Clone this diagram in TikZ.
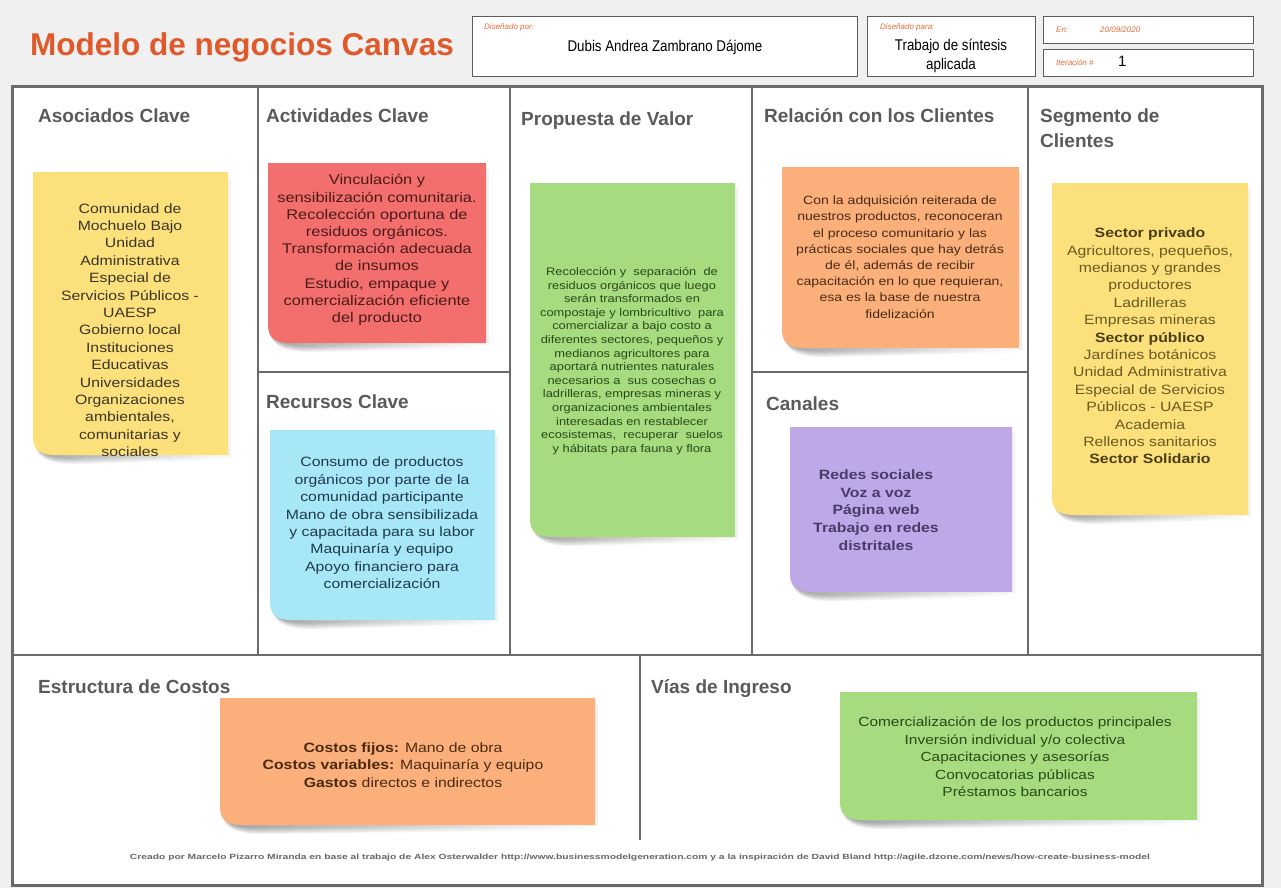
\documentclass[tikz,border=0pt]{standalone}
\usepackage{fontspec}
\setmainfont{Liberation Sans}
\newfontfamily\nf[FakeStretch=1.17]{Liberation Sans}
\newfontfamily\narf[FakeStretch=0.86]{Liberation Sans}
\definecolor{bgc}{HTML}{F0F0F0}
\definecolor{linec}{HTML}{6A6A6A}
\definecolor{boxc}{HTML}{5C5C5C}
\definecolor{headc}{HTML}{5A5A5A}
\definecolor{titlec}{HTML}{E0592A}
\definecolor{labc}{HTML}{E8693A}
\definecolor{footc}{HTML}{666666}
\definecolor{yellowN}{HTML}{FCE07B}
\definecolor{redN}{HTML}{F36F6E}
\definecolor{greenN}{HTML}{A7DB7F}
\definecolor{orangeN}{HTML}{FBB07B}
\definecolor{cyanN}{HTML}{A7E7F8}
\definecolor{purpleN}{HTML}{BFA8E8}
\definecolor{txY}{HTML}{3A3526}
\definecolor{txR}{HTML}{4A1A18}
\definecolor{txG}{HTML}{2A4A18}
\definecolor{txO}{HTML}{4A2A12}
\definecolor{txS}{HTML}{6A5A22}
\definecolor{txSb}{HTML}{4A3E14}
\definecolor{txC}{HTML}{1E3A48}
\definecolor{txP}{HTML}{4A3A68}
\tikzset{
  panel/.style={draw=linec, line width=2pt},
  head/.style={anchor=base west, inner sep=0pt, font=\fontsize{19}{22}\selectfont\bfseries, text=headc},
  notebg/.style={anchor=north west, inner sep=0pt, draw=none},
  ntext/.style={align=center, inner sep=0pt},
  hbox/.style={draw=boxc, line width=1pt, fill=white, anchor=north west, inner sep=0pt},
  lab/.style={anchor=base west, inner sep=0pt, font=\fontsize{8}{9}\selectfont\itshape, text=labc},
}
% name, x0, y0, x1, y1, colour
\newcommand\stickynote[6]{%
  % soft, layered shadow under the lower edge, darkest at the left
  \foreach \s in {0,...,6}{%
    \shade[left color=black, right color=white, opacity=.06]
      (#2+5,#5-34+2*\s) .. controls (#2-4+0.8*\s,#5-6) and (#2+2+0.5*\s,#5+10-\s) .. (#2+45,#5+9-\s)
      -- (#4-2,#5+5-0.6*\s) -- (#4-2,#5-4) -- cycle;
  }
  % right side faint shadow
  \fill[black,opacity=.05] (#4,#3+6) rectangle (#4+3,#5+2);
  % the paper, with its lifted lower left corner
  \fill[#6] (#2,#3) -- (#4,#3) -- (#4,#5) -- (#2+28,#5) .. controls (#2+8,#5+1) and (#2+1,#5-4) .. (#2,#5-16) -- cycle;
  \node[notebg, minimum width=#4pt-#2pt, minimum height=#5pt-#3pt] (#1) at (#2,#3) {};
}
\begin{document}
\begin{tikzpicture}[x=1pt,y=-1pt]
\useasboundingbox (0,0) rectangle (1281,888);
\fill[bgc] (0,0) rectangle (1281,888);

% ---------- header ----------
\node[anchor=base west, inner sep=0pt, font=\fontsize{31.5}{34}\selectfont\bfseries, text=titlec] (title) at (30,56) {Modelo de negocios Canvas};

\node[hbox, minimum width=385pt, minimum height=60pt] (porbox) at (472,16) {};
\node[lab] (porlab) at (484,30) {Diseñado por:};
\node[inner sep=0pt, font=\narf\fontsize{15.5}{18}\selectfont] (dubis) at (665,47) {Dubis Andrea Zambrano Dájome};

\node[hbox, minimum width=168pt, minimum height=60pt] (parabox) at (867,16) {};
\node[lab] (paralab) at (880,30) {Diseñado para:};
\node[inner sep=0pt, align=center, font=\narf\fontsize{15.5}{19}\selectfont] (para) at (951,56) {Trabajo de síntesis\\aplicada};

\node[hbox, minimum width=210pt, minimum height=27pt] (enbox) at (1043,16) {};
\node[lab] (enlab) at (1056,33) {En:};
\node[lab] (fecha) at (1100,33) {20/09/2020};

\node[hbox, minimum width=210pt, minimum height=27pt] (itbox) at (1043,49) {};
\node[lab] (itlab) at (1056,66) {Iteración \#};
\node[anchor=base west, inner sep=0pt, font=\fontsize{15}{18}\selectfont] (itnum) at (1118,67) {1};

% ---------- canvas ----------
\fill[white] (12,87) rectangle (1262,885);
\draw[panel] (258,87) -- (258,655);
\draw[panel] (510,87) -- (510,655);
\draw[panel] (752,87) -- (752,655);
\draw[panel] (1028,87) -- (1028,655);
\draw[panel] (258,372) -- (510,372);
\draw[panel] (752,372) -- (1028,372);
\draw[panel] (12,655) -- (1262,655);
\draw[panel] (640,655) -- (640,840);
\draw[draw=linec, line width=3pt] (12,87) rectangle (1262,885);

% ---------- section titles ----------
\node[head] (hA) at (38,123) {Asociados Clave};
\node[head] (hB) at (266,123) {Actividades Clave};
\node[head] (hC) at (521,125) {Propuesta de Valor};
\node[head] (hD) at (764,123) {Relación con los Clientes};
\node[head] (hE) at (1040,123) {Segmento de};
\node[head] (hE2) at (1040,147) {Clientes};
\node[head] (hF) at (266,408) {Recursos Clave};
\node[head] (hG) at (766,410) {Canales};
\node[head] (hH) at (38,693) {Estructura de Costos};
\node[head] (hI) at (651,693) {Vías de Ingreso};

% ---------- sticky notes ----------
\stickynote{nA}{33}{172}{228}{455}{yellowN}
\stickynote{nB}{268}{163}{486}{343}{redN}
\stickynote{nC}{530}{183}{735}{537}{greenN}
\stickynote{nD}{782}{167}{1019}{348}{orangeN}
\stickynote{nE}{1052}{183}{1248}{515}{yellowN}
\stickynote{nF}{270}{430}{495}{620}{cyanN}
\stickynote{nG}{790}{427}{1012}{592}{purpleN}
\stickynote{nH}{220}{698}{595}{825}{orangeN}
\stickynote{nI}{840}{692}{1197}{820}{greenN}

\node[ntext, text=txY, font=\nf\fontsize{13.5}{17.4}\selectfont] (tA) at (130,330) {Comunidad de\\Mochuelo Bajo\\Unidad\\Administrativa\\Especial de\\Servicios Públicos -\\UAESP\\Gobierno local\\Instituciones\\Educativas\\Universidades\\Organizaciones\\ambientales,\\comunitarias y\\sociales};

\node[ntext, text=txR, font=\nf\fontsize{14}{17.2}\selectfont] (tB) at (377,250) {Vinculación y\\sensibilización comunitaria.\\Recolección oportuna de\\residuos orgánicos.\\Transformación adecuada\\de insumos\\Estudio, empaque y\\comercialización eficiente\\del producto};

\node[ntext, text=txG, font=\nf\fontsize{11}{13.6}\selectfont] (tC) at (632,361) {Recolección y\ \ separación\ \ de\\residuos orgánicos que luego\\serán transformados en\\compostaje y lombricultivo\ \ para\\comercializar a bajo costo a\\diferentes sectores, pequeños y\\medianos agricultores para\\aportará nutrientes naturales\\necesarios a\ \ sus cosechas o\\ladrilleras, empresas mineras y\\organizaciones ambientales\\interesadas en restablecer\\ecosistemas,\ \ recuperar\ \ suelos\\y hábitats para fauna y flora};

\node[ntext, text=txO, font=\nf\fontsize{12}{16.2}\selectfont] (tD) at (900,257) {Con la adquisición reiterada de\\nuestros productos, reconoceran\\el proceso comunitario y las\\prácticas sociales que hay detrás\\de él, además de recibir\\capacitación en lo que requieran,\\esa es la base de nuestra\\fidelización};

\node[ntext, text=txS, font=\nf\fontsize{13.5}{17.4}\selectfont] (tE) at (1150,346) {\textcolor{txSb}{\bfseries Sector privado}\\Agricultores, pequeños,\\medianos y grandes\\productores\\Ladrilleras\\Empresas mineras\\\textcolor{txSb}{\bfseries Sector público}\\Jardínes botánicos\\Unidad Administrativa\\Especial de Servicios\\Públicos - UAESP\\Academia\\Rellenos sanitarios\\\textcolor{txSb}{\bfseries Sector Solidario}};

\node[ntext, text=txC, font=\nf\fontsize{13.5}{17.4}\selectfont] (tF) at (382,523) {Consumo de productos\\orgánicos por parte de la\\comunidad participante\\Mano de obra sensibilizada\\y capacitada para su labor\\Maquinaría y equipo\\Apoyo financiero para\\comercialización};

\node[ntext, text=txP, font=\nf\fontsize{13.5}{17.6}\selectfont\bfseries] (tG) at (876,510) {Redes sociales\\Voz a voz\\Página web\\Trabajo en redes\\distritales};

\node[ntext, text=txO, font=\nf\fontsize{13.5}{17.5}\selectfont] (tH) at (403,765) {\textbf{Costos fijos:} Mano de obra\\\textbf{Costos variables:} Maquinaría y equipo\\\textbf{Gastos} directos e indirectos};

\node[ntext, text=txG, font=\nf\fontsize{13.2}{17.5}\selectfont] (tI) at (1015,757) {Comercialización de los productos principales\\Inversión individual y/o colectiva\\Capacitaciones y asesorías\\Convocatorias públicas\\Préstamos bancarios};

% ---------- footer ----------
\node[inner sep=0pt, text=footc] (foot) at (640,858) {\resizebox{1020pt}{5.5pt}{\bfseries Creado por Marcelo Pizarro Miranda en base al trabajo de Alex Osterwalder http://www.businessmodelgeneration.com y a la inspiración de David Bland http://agile.dzone.com/news/how-create-business-model}};
\end{tikzpicture}
\end{document}
